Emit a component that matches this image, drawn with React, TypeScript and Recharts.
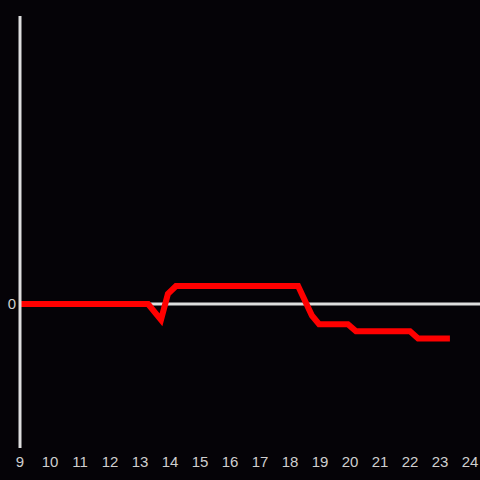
import { LineChart, Line, XAxis, YAxis, ReferenceLine } from 'recharts'

// hours of day and value (relative units)
const hours = [9, 13.27, 13.7, 13.93, 14.2, 18.27, 18.73, 18.97, 19.93, 20.2, 22.0, 22.27, 23.33]
const values = [0, 0, -0.11, 0.07, 0.125, 0.125, -0.08, -0.14, -0.14, -0.19, -0.19, -0.24, -0.24]
const hourTicks = [9, 10, 11, 12, 13, 14, 15, 16, 17, 18, 19, 20, 21, 22, 23, 24]
const valueTicks = [0]

const data = hours.map((h, i) => ({ hour: h, value: values[i] }))

const BG = '#050307'
const AXIS = '#dedede'
const tickStyle = { fontSize: 15, fill: '#cfcfcf', fontFamily: 'Liberation Sans, Arial, sans-serif' }

export default function App() {
  return (
    <div style={{ width: 480, height: 480, background: BG }}>
      <style>{`body{margin:0;background:${BG}}`}</style>
      <LineChart width={480} height={480} data={data} margin={{ top: 16, right: 0, left: 0, bottom: 0 }}>
        <XAxis
          dataKey="hour"
          type="number"
          domain={[9, 24.333]}
          ticks={hourTicks}
          axisLine={false}
          tickLine={false}
          height={32}
          tick={tickStyle}
          interval={0}
          allowDataOverflow
        />
        <YAxis
          type="number"
          domain={[-1, 2]}
          ticks={valueTicks}
          width={20}
          axisLine={{ stroke: AXIS, strokeWidth: 3 }}
          tickLine={false}
          tickSize={0}
          tickMargin={4}
          tick={tickStyle}
        />
        <ReferenceLine y={0} stroke={AXIS} strokeWidth={3} />
        <Line
          type="linear"
          dataKey="value"
          stroke="#ff0000"
          strokeWidth={6}
          dot={false}
          activeDot={false}
          isAnimationActive={false}
        />
      </LineChart>
    </div>
  )
}
